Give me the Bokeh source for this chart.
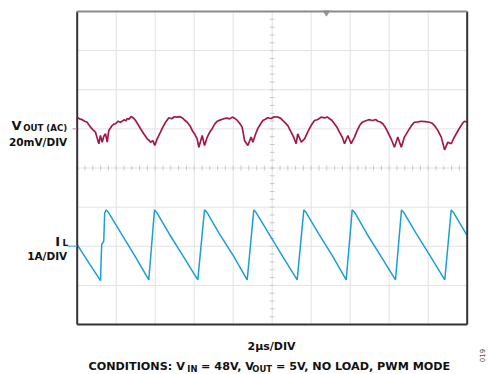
import numpy as np
from bokeh.plotting import figure
from bokeh.models import Range1d, Label
from bokeh.embed import file_html
from bokeh.resources import INLINE

# Scope settings: 10 horizontal divisions at 2 us/div, 8 vertical divisions
US_PER_DIV = 2.0
N_XDIV = 10
N_YDIV = 8
VOUT_MV_PER_DIV = 20.0
VOUT_REF_DIV = 1.0      # VOUT (AC) ground marker, divisions above centre
IL_A_PER_DIV = 1.0
IL_REF_DIV = -2.0       # IL zero marker, divisions below centre

# Output ripple, VOUT (AC) in mV versus time in us
vout_t = [0.03, 0.14, 0.26, 0.38, 0.51, 0.68, 0.80, 0.94, 1.02, 1.11, 1.19, 1.28,
          1.36, 1.45, 1.54, 1.62, 1.79, 1.88, 1.96, 2.10, 2.22, 2.40, 2.50, 2.56,
          2.66, 2.77, 2.88, 2.99, 3.12, 3.25, 3.42, 3.59, 3.68, 3.76, 3.88, 3.98,
          4.10, 4.27, 4.40, 4.53, 4.70, 4.85, 4.98, 5.13, 5.25, 5.38, 5.52, 5.64,
          5.78, 5.90, 6.02, 6.15, 6.24, 6.41, 6.53, 6.67, 6.80, 6.92, 7.05, 7.18,
          7.35, 7.52, 7.70, 7.82, 7.95, 8.08, 8.21, 8.33, 8.46, 8.58, 8.75, 8.92,
          9.01, 9.14, 9.26, 9.40, 9.52, 9.65, 9.77, 9.95, 10.10, 10.29, 10.42, 10.54,
          10.67, 10.80, 10.97, 11.10, 11.23, 11.31, 11.49, 11.66, 11.80, 11.91, 12.05,
          12.17, 12.34, 12.51, 12.70, 12.82, 12.94, 13.06, 13.19, 13.32, 13.45, 13.60,
          13.71, 13.88, 14.05, 14.22, 14.36, 14.48, 14.60, 14.73, 14.95, 15.16, 15.30,
          15.42, 15.55, 15.67, 15.80, 15.93, 16.10, 16.27, 16.44, 16.62, 16.78, 16.92,
          17.04, 17.18, 17.30, 17.47, 17.64, 17.85, 18.07, 18.20, 18.32, 18.50, 18.67,
          18.84, 19.01, 19.18, 19.32, 19.44, 19.57, 19.69, 19.78, 19.86, 20.00]
vout_mv = [5.7, 5.0, 4.7, 3.9, 3.4, 0.9, -0.4, -1.7, -4.6, -7.6, -3.4, -6.8,
           -3.9, -2.4, -6.8, -0.8, 1.7, 2.4, 2.6, 3.9, 3.4, 4.6, 4.1, 5.2,
           5.0, 6.3, 5.6, 4.3, 2.2, 0.1, -2.6, -5.1, -5.8, -6.8, -6.0, -8.5,
           -5.1, -1.7, 1.0, 3.4, 5.7, 5.2, 6.2, 6.0, 6.3, 5.7, 4.4, 3.4,
           1.6, -0.8, -2.6, -5.1, -9.4, -3.4, -8.5, -4.2, -1.6, 0.1, 2.4, 3.9,
           4.6, 5.2, 5.5, 5.1, 6.0, 5.4, 4.3, 2.9, 0.9, -5.9, -8.5, -4.2,
           -6.8, -2.9, 0.1, 2.5, 4.3, 4.9, 5.7, 5.3, 6.2, 6.0, 5.5, 4.3,
           3.1, 1.7, -1.7, -4.2, -7.6, -2.5, -6.8, -5.1, -2.0, 0.1, 2.6,
           4.3, 4.8, 6.0, 5.6, 6.1, 5.2, 4.4, 2.6, 0.9, -1.7, -4.4,
           -7.6, -3.4, -7.6, -4.2, -0.8, 1.7, 3.2, 3.9, 4.7, 4.3, 4.8,
           3.9, 3.5, 2.6, 0.8, -1.7, -5.2, -9.4, -4.2, -9.4, -4.2, -1.9,
           0.1, 2.2, 3.4, 3.6, 3.9, 3.7, 3.4, 2.9, 1.7, -0.9, -4.2,
           -10.7, -6.8, -7.6, -4.6, -2.5, -0.2, 1.7, 3.1, 3.9, 3.4]

# Inductor current IL in A versus time in us
il_t = [0.00, 0.40, 0.80, 1.195, 1.23, 1.26, 1.36, 1.41, 1.487,
        1.607, 2.237, 2.987, 3.672, 3.964,
        4.084, 4.714, 5.464, 6.185, 6.528,
        6.648, 7.278, 8.028, 8.718, 9.056,
        9.176, 9.806, 10.556, 11.282, 11.621,
        11.741, 12.371, 13.121, 13.795, 14.103,
        14.223, 14.853, 15.603, 16.323, 16.631,
        16.751, 17.381, 18.131, 18.851, 19.180,
        19.300, 20.000]
il_a = [0.04, -0.27, -0.58, -0.88, -0.30, 0.05, 0.12, 0.85, 0.93,
        0.86, 0.34, -0.27, -0.86, 0.93,
        0.86, 0.32, -0.28, -0.86, 0.93,
        0.87, 0.33, -0.26, -0.86, 0.93,
        0.86, 0.34, -0.28, -0.86, 0.93,
        0.86, 0.33, -0.27, -0.86, 0.93,
        0.87, 0.32, -0.28, -0.86, 0.93,
        0.86, 0.33, -0.27, -0.86, 0.93,
        0.86, 0.27]

VOUT_COLOR = "#a3184b"
IL_COLOR = "#1c9fd6"
GRID_COLOR = "#e2e2e2"
TICK_COLOR = "#c8c8c8"
FONT = "DejaVu Sans"

W, H = 488, 374
# graticule placement on the page, in pixels
GX0, GX1, GY0, GY1 = 76.7, 466.7, 11.0, 324.0
x_max = N_XDIV * US_PER_DIV
y_half = N_YDIV / 2
px_per_us = (GX1 - GX0) / x_max
px_per_div = (GY1 - GY0) / N_YDIV

# the plotting frame spans the whole page so labels outside the graticule show
x_lo = -GX0 / px_per_us
x_hi = x_max + (W - GX1) / px_per_us
y_hi = y_half + GY0 / px_per_div
y_lo = -y_half - (H - GY1) / px_per_div


def at(px, py):
    """Page pixel position -> (time, division) coordinates."""
    return (px - GX0) / px_per_us, y_hi - py / px_per_div


p = figure(width=W, height=H, output_backend="svg", toolbar_location=None,
           x_range=Range1d(x_lo, x_hi), y_range=Range1d(y_lo, y_hi),
           x_axis_location=None, y_axis_location=None,
           min_border=0)
p.background_fill_color = "white"
p.border_fill_color = "white"
p.outline_line_color = None
p.xgrid.visible = False
p.ygrid.visible = False

# Each trace gets its own vertical scale so it sits on its marker
p.extra_y_ranges = {
    "vout": Range1d((y_lo - VOUT_REF_DIV) * VOUT_MV_PER_DIV,
                    (y_hi - VOUT_REF_DIV) * VOUT_MV_PER_DIV),
    "il": Range1d((y_lo - IL_REF_DIV) * IL_A_PER_DIV,
                  (y_hi - IL_REF_DIV) * IL_A_PER_DIV),
}

# Graticule lines
xdiv = [US_PER_DIV * i for i in range(1, N_XDIV)]
ydiv = [i - y_half for i in range(1, N_YDIV)]
p.segment(x0=xdiv, y0=-y_half, x1=xdiv, y1=y_half, line_color=GRID_COLOR, line_width=1)
p.segment(x0=0, y0=ydiv, x1=x_max, y1=ydiv, line_color=GRID_COLOR, line_width=1)

# Minor ticks along the two centre lines (5 per division)
x_mid = x_max / 2
hx = np.arange(0, x_max + 1e-9, US_PER_DIV / 5)
p.segment(x0=hx, y0=-0.06, x1=hx, y1=0.06, line_color=TICK_COLOR, line_width=1)
vy = np.arange(-y_half, y_half + 1e-9, 0.2)
p.segment(x0=x_mid - 0.12, y0=vy, x1=x_mid + 0.12, y1=vy,
          line_color=TICK_COLOR, line_width=1)

# Trigger position marker on the top edge
p.scatter(x=[12.78], y=[y_half - 0.03], marker="inverted_triangle", size=6,
          fill_color="#9a9a9a", line_color="#9a9a9a")

# Traces
p.line(vout_t, vout_mv, y_range_name="vout", line_color=VOUT_COLOR, line_width=1.7)
p.line(il_t, il_a, y_range_name="il", line_color=IL_COLOR, line_width=1.5)

# Graticule border: dark sides, lighter top
p.segment(x0=[0, x_max, 0], y0=[-y_half, -y_half, -y_half],
          x1=[0, x_max, x_max], y1=[y_half, y_half, -y_half],
          line_color="#333333", line_width=2)
p.segment(x0=0, y0=y_half, x1=x_max, y1=y_half, line_color="#8a8a8a", line_width=2)

# Channel reference markers just left of the graticule
p.segment(x0=-0.24, y0=VOUT_REF_DIV, x1=-0.04, y1=VOUT_REF_DIV,
          line_color="#d98aa4", line_width=1.3)
p.segment(x0=-0.50, y0=IL_REF_DIV, x1=-0.04, y1=IL_REF_DIV,
          line_color="#6cc4ea", line_width=1.3)


def lab(px, py, text, size, align="left", color="#111111"):
    x, y = at(px, py)
    p.add_layout(Label(x=x, y=y, text=text, text_align=align,
                       text_baseline="alphabetic", text_font=FONT,
                       text_font_style="bold", text_font_size=size,
                       text_color=color))


# Channel labels
lab(11.0, 125.0, "V", "13px")
lab(22.7, 127.3, "OUT (AC)", "8.6px")
lab(66.7, 141.0, "20mV/DIV", "10.5px", align="right")
lab(59.5, 241.0, "I", "13px", align="right")
lab(67.7, 242.5, "L", "9px", align="right")
lab(66.7, 255.7, "1A/DIV", "10.5px", align="right")

# Time base
lab(271.0, 346.0, "2\u00b5s/DIV", "11px", align="center")

# Conditions line, pieces chained left to right with subscripts
lab(88.0, 366.0, "CONDITIONS: V", "11.2px")
lab(186.8, 368.8, "IN", "8.4px")
lab(200.6, 366.0, "= 48V, V", "11.2px")
lab(251.8, 368.8, "OUT", "8.4px")
lab(275.4, 366.0, "= 5V, NO LOAD, PWM MODE", "11.2px")

fx, fy = at(481.0, 355.0)
p.add_layout(Label(x=fx, y=fy, text="019", text_align="center",
                   text_baseline="middle", text_font=FONT, text_font_size="7px",
                   text_color="#555555", angle=np.pi / 2))

open("out.html", "w").write(file_html(p, INLINE))
